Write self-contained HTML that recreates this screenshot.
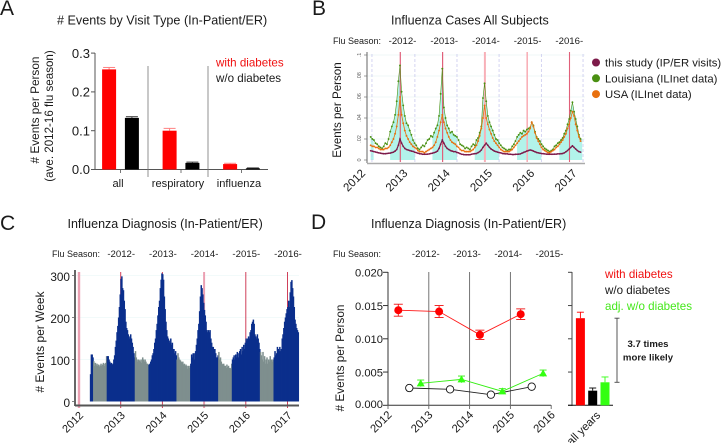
<!DOCTYPE html>
<html><head><meta charset="utf-8"><title>Influenza figure</title>
<style>
html,body{margin:0;padding:0;background:#fff;width:724px;height:443px;overflow:hidden}
svg{display:block}
text{font-family:"Liberation Sans",sans-serif;fill:#1a1a1a}
</style></head>
<body>
<svg id="fig" width="724" height="443" viewBox="0 0 724 443" xmlns="http://www.w3.org/2000/svg">
<rect width="724" height="443" fill="#fff"/>
<text x="0" y="15" font-size="21">A</text>
<text x="312" y="15" font-size="21">B</text>
<text x="0" y="230" font-size="21">C</text>
<text x="311" y="229" font-size="21">D</text>
<text x="57" y="24.5" font-size="12.6">#&#160;Events by Visit Type (In-Patient/ER)</text>
<text x="391" y="24.5" font-size="12.5">Influenza Cases All Subjects</text>
<text x="67.5" y="228" font-size="12.5">Influenza Diagnosis (In-Patient/ER)</text>
<text x="371" y="228" font-size="12.5">Influenza Diagnosis (In-Patient/ER)</text>
<text transform="translate(39,110) rotate(-90)" text-anchor="middle" font-size="11.8"># Events per Person</text>
<text transform="translate(53,116) rotate(-90)" text-anchor="middle" font-size="11.6">(ave. 2012-16 flu season)</text>
<text x="216" y="66.5" font-size="11.6" style="fill:#f01010">with diabetes</text>
<text x="216" y="82" font-size="11.6">w/o diabetes</text>
<text transform="translate(341,110) rotate(-90)" text-anchor="middle" font-size="11.6">Events per Person</text>
<text x="333" y="44" font-size="9">Flu Season:</text>
<text x="52" y="257" font-size="9">Flu Season:</text>
<text x="333" y="257" font-size="9">Flu Season:</text>
<text transform="translate(44,342) rotate(-90)" text-anchor="middle" font-size="12"># Events per Week</text>
<text transform="translate(344,358) rotate(-90)" text-anchor="middle" font-size="11.8"># Events per Person</text>
<text x="605" y="278" font-size="11.6" style="fill:#f01010">with diabetes</text>
<text x="605" y="294" font-size="11.6">w/o diabetes</text>
<text x="605" y="310" font-size="11.6" style="fill:#44e81a">adj. w/o diabetes</text>
<text x="648" y="347" text-anchor="middle" font-size="9.6" font-weight="bold">3.7 times</text>
<text x="648" y="360.5" text-anchor="middle" font-size="9.6" font-weight="bold">more likely</text>
<text transform="translate(601,416) rotate(-45)" text-anchor="end" font-size="11.3">all years</text>
</svg>
<script>
// ---- Panel A data
const aCategories = ['all', 'respiratory', 'influenza'];
const aWithDiabetes = [0.258, 0.100, 0.014];
const aWithoutDiabetes = [0.133, 0.017, 0.003];
const aWithErr = [0.005, 0.006, 0.002];
const aWithoutErr = [0.003, 0.002, 0.001];
const aTicks = ['0.0', '0.1', '0.2', '0.3'];

// ---- Panel B data (every two weeks from 2012.30; values in events per person x 100)
const bStartYear = 2012.30;
const bStepYears = 1 / 26;
const bLouisiana = [
 2.2,2.0,1.9,1.6,1.5,1.3,1.2,1.1,1.3,1.6,1.5,2.0,2.7,3.2,3.6,4.3,5.6,7.5,9.0,6.5,5.2,4.2,3.5,3.3,2.8,2.4,
 1.9,1.6,1.4,1.1,1.0,1.2,1.4,1.3,1.6,1.9,2.0,2.3,2.2,2.6,3.0,3.3,4.2,6.3,8.7,5.0,4.0,3.3,3.0,2.6,2.7,2.4,
 2.3,2.2,1.9,1.5,1.4,1.3,1.1,1.2,1.1,1.0,1.3,1.5,1.4,1.9,2.1,2.6,3.2,5.9,7.3,5.6,4.2,3.6,3.2,2.8,2.4,2.0,
 1.9,1.6,1.4,1.2,1.1,1.0,0.9,1.0,1.0,1.3,1.5,1.8,2.2,2.4,2.6,2.5,2.8,2.7,2.9,3.0,3.1,3.6,3.3,2.7,2.2,2.0,
 1.8,1.5,1.3,1.1,1.0,0.9,0.8,0.9,1.0,1.3,1.4,1.6,1.7,1.9,2.1,2.5,2.8,3.4,3.9,4.7,5.5,4.6,3.9,3.2,2.4,2.0];
const bUsa = [
 1.4,1.3,1.3,1.2,1.2,1.1,1.0,1.0,1.0,1.1,1.1,1.2,1.4,1.7,2.0,2.5,3.2,4.3,6.0,4.3,3.5,2.8,2.3,2.0,1.7,1.5,
 1.3,1.2,1.1,0.9,0.8,0.8,0.8,0.7,0.8,0.9,1.0,1.1,1.2,1.4,1.7,2.2,2.8,3.6,4.3,3.6,3.0,2.6,2.2,1.9,1.7,1.6,
 1.5,1.3,1.2,1.0,0.9,0.9,0.8,0.8,0.8,0.8,0.9,1.0,1.2,1.4,1.8,2.3,3.0,4.0,5.2,4.0,3.4,2.9,2.5,2.1,1.8,1.6,
 1.4,1.2,1.0,0.9,0.8,0.8,0.8,0.8,0.9,1.0,1.2,1.4,1.6,1.8,2.0,2.2,2.3,2.4,2.5,2.7,3.0,3.6,3.2,2.6,2.1,1.8,
 1.5,1.2,1.0,0.9,0.8,0.7,0.7,0.8,0.9,1.0,1.2,1.3,1.5,1.7,1.9,2.2,2.5,3.0,3.4,4.0,4.6,4.2,3.4,2.8,2.2,1.8];
const bStudy = [
 .88,.84,.80,.76,.72,.68,.65,.62,.60,.60,.62,.64,.66,.70,.75,.85,1.0,1.4,2.0,1.6,1.3,1.1,1.0,.95,.9,.85,
 .82,.75,.70,.65,.6,.58,.55,.55,.55,.56,.58,.62,.65,.7,.75,.85,1.1,1.5,1.9,1.6,1.3,1.1,1.0,.9,.85,.8,
 .8,.72,.68,.6,.55,.52,.5,.5,.5,.5,.55,.58,.6,.62,.7,.8,.95,1.2,1.4,1.6,1.4,1.2,1.05,.95,.85,.8,
 .75,.7,.68,.62,.6,.58,.58,.55,.55,.52,.52,.54,.55,.56,.58,.65,.72,.78,.85,.9,.95,.92,.85,.78,.72,.68,
 .65,.62,.6,.58,.56,.55,.55,.55,.55,.56,.56,.58,.58,.6,.62,.68,.78,.9,1.05,1.2,1.35,1.2,1.05,.9,.8,.75];
const bSeasonStarts = [2012.30, 2012.76, 2013.76, 2014.76, 2015.76, 2016.76];
const bSeasonEnds = [2012.37, 2013.345, 2014.34, 2015.335, 2016.335, 2017.30];
const bSeasonLines = [2012.33, 2013.345, 2014.34, 2015.335, 2016.335, 2017.32];
const bYTicks = [0, 2, 4, 6, 8, 10];
const bYTickLabels = ['0', '.02', '.04', '.06', '.08', '.1'];
const bYears = [2012, 2013, 2014, 2015, 2016, 2017];
const bPeakLines = [2013, 2014, 2015, 2016, 2017];
const bPeakWidths = [1.2, 1.2, 2, 1.6, 1.1];
const bSeasonLabels = ['-2012-', '-2013-', '-2014-', '-2015-', '-2016-'];
const bLegend = ['this study (IP/ER visits)', 'Louisiana (ILInet data)', 'USA (ILInet data)'];

// ---- Panel C data (weekly from 2012.26)
const cStartYear = 2012.26;
const cWeekly = [
 65,112,112,105,96,85,92,86,90,85,88,82,86,
 90,85,88,92,85,90,92,108,108,108,100,95,90,
 92,88,90,100,110,130,145,165,180,200,225,255,292,
 298,270,265,240,220,190,175,170,160,150,155,160,150,
 140,130,115,105,120,105,100,95,100,98,95,100,92,
 105,100,95,100,95,90,90,88,88,90,95,100,110,
 115,125,140,150,170,185,205,225,240,270,290,305,303,
 290,250,220,190,170,155,150,145,140,150,135,140,125,
 125,115,120,110,100,115,105,100,98,95,92,95,88,
 90,85,88,85,78,85,80,85,90,112,105,115,100,
 115,120,135,150,170,185,215,250,277,270,255,235,218,
 205,190,170,165,170,165,170,150,140,130,130,125,125,
 115,105,105,110,118,100,105,95,90,88,90,85,85,
 80,88,82,85,80,78,80,90,100,105,110,100,112,
 105,118,105,115,120,125,112,130,120,135,125,140,150,
 145,150,155,150,165,170,185,190,195,185,160,155,150,
 160,150,140,125,118,110,100,118,95,108,90,100,105,
 90,100,95,108,100,100,95,100,105,120,110,115,130,
 125,120,130,120,125,150,160,175,190,200,210,220,225,
 240,225,260,285,289,270,250,225,195,185,175,170,165];
const cYTicks = [0, 100, 200, 300];
const cYears = [2012, 2013, 2014, 2015, 2016, 2017];
const cPeakWidths = [2.4, 1, 1, 2, 1, 1];
const cSeasonLabels = ['-2012-', '-2013-', '-2014-', '-2015-', '-2016-'];

// ---- Panel D data
const dSeasonYears = [2012, 2013, 2014, 2015];
const dSeasonLabels = ['-2012-', '-2013-', '-2014-', '-2015-'];
const dWith = [0.0143, 0.0141, 0.0106, 0.0137];
const dWithErr = [0.0009, 0.0009, 0.0007, 0.0008];
const dWithout = [0.0026, 0.0024, 0.0016, 0.0028];
const dAdjusted = [0.0033, 0.0039, 0.0021, 0.0048];
const dAdjustedErr = [0.0005, 0.0005, 0.0004, 0.0005];
const dYTicks = [0, 0.005, 0.010, 0.015, 0.020];
const dYTickLabels = ['0.000', '0.005', '0.010', '0.015', '0.020'];
const dYears = [2012, 2013, 2014, 2015, 2016];
const dAllYears = [0.0131, 0.0022, 0.00346];
const dAllYearsErr = [0.0009, 0.0004, 0.0008];
const dAllYearsColors = ['#ff0000', '#000000', '#33ff11'];

const svg = document.getElementById('fig');
const NS = 'http://www.w3.org/2000/svg';
function el(tag, attrs, text) {
  const e = document.createElementNS(NS, tag);
  for (const k in attrs) e.setAttribute(k, attrs[k]);
  if (text !== undefined) e.textContent = text;
  svg.appendChild(e);
  return e;
}
function label(e, name) {
  
  
  return e;
}
function line(x1, y1, x2, y2, stroke, w, dash) {
  const a = {x1: x1, y1: y1, x2: x2, y2: y2, stroke: stroke, 'stroke-width': w};
  if (dash) a['stroke-dasharray'] = dash;
  return el('line', a);
}
function errorBar(x, yLow, yHigh, capW, color, w, name) {
  label(line(x, yLow, x, yHigh, color, w), name);
  label(line(x - capW, yHigh, x + capW, yHigh, color, w), name + '-cap');
}
function pathFrom(pts) {
  return pts.map((p, i) => (i ? 'L' : 'M') + p[0].toFixed(2) + ' ' + p[1].toFixed(2)).join(' ');
}

// ===== Panel A =====
const aY = v => 169.5 - v * 388;
const aX = i => 120.5 + i * 60.5;
label(line(95, 53, 95, 170, '#555', 1), 'panel-a-y-axis');
label(line(95, 169.5, 268, 169.5, '#555', 1), 'panel-a-x-axis');
[148, 208].forEach(x => label(line(x, 66, x, 177, '#777', 0.8), 'panel-a-group-separator'));
aTicks.forEach(t => {
  const y = aY(parseFloat(t));
  label(line(91, y, 95, y, '#555', 1), 'panel-a-y-tick');
  label(el('text', {x: 90, y: y + 4.7, 'text-anchor': 'end', 'font-size': 13}, t), 'panel-a-y-tick-label');
});
aCategories.forEach((c, i) => {
  const xw = aX(i) - 11.4, xo = aX(i) + 11.4;
  errorBar(xw, aY(aWithDiabetes[i]), aY(aWithDiabetes[i] + aWithErr[i]), 6, '#ff8080', 1, 'panel-a-error-with-diabetes');
  label(el('rect', {x: xw - 7, y: aY(aWithDiabetes[i]), width: 14, height: aY(0) - aY(aWithDiabetes[i]), fill: '#ff0000'}), 'panel-a-bar-with-diabetes');
  errorBar(xo, aY(aWithoutDiabetes[i]), aY(aWithoutDiabetes[i] + aWithoutErr[i]), 6, '#333', 1, 'panel-a-error-without-diabetes');
  label(el('rect', {x: xo - 7, y: aY(aWithoutDiabetes[i]), width: 14, height: aY(0) - aY(aWithoutDiabetes[i]), fill: '#000'}), 'panel-a-bar-without-diabetes');
  label(line(aX(i), 170, aX(i), 173, '#555', 0.8), 'panel-a-x-tick');
  label(el('text', {x: [118, 178, 239][i], y: 187, 'text-anchor': 'middle', 'font-size': 11.1}, c), 'panel-a-category-label');
});

// ===== Panel B =====
const bX = yr => 358 + (yr - 2012) * 42.3;
const bY = v => 160 - v * 10.5;
const bYearAt = i => bStartYear + i * bStepYears;
bYTicks.forEach((t, i) => {
  const y = bY(t);
  if (t > 0) label(line(367, y, 585, y, '#eaf5f5', 0.8), 'panel-b-gridline');
  label(line(364, y, 367, y, '#777', 0.7), 'panel-b-y-tick');
  label(el('text', {transform: 'translate(361,' + y + ') rotate(-90)', 'text-anchor': 'middle', 'font-size': 5.5, style: 'fill:#666'}, bYTickLabels[i]), 'panel-b-y-tick-label');
});
bSeasonStarts.forEach((s, k) => {
  const pts = [];
  bLouisiana.forEach((v, i) => {
    const yr = bYearAt(i);
    if (yr >= s && yr <= bSeasonEnds[k]) pts.push([bX(yr), bY(v)]);
  });
  const poly = [[bX(s), bY(0)], [bX(s), pts[0][1]]].concat(pts, [[bX(bSeasonEnds[k]), pts[pts.length - 1][1]], [bX(bSeasonEnds[k]), bY(0)]]);
  label(el('path', {d: pathFrom(poly) + ' Z', fill: '#b2f3ea'}), 'panel-b-season-shading');
});
bSeasonLines.forEach(yr => label(line(bX(yr), 54, bX(yr), 162, '#c9c9ee', 0.8, '3 2'), 'panel-b-season-boundary'));
bPeakLines.forEach((yr, i) => label(line(bX(yr), 52, bX(yr), 162, i < 2 || i === 4 ? '#e0607a' : '#f8b0b8', bPeakWidths[i]), 'panel-b-new-year-line'));
label(line(367, 52, 367, 163, '#666', 1), 'panel-b-y-axis');
label(line(367, 163.5, 585, 163.5, '#aaa', 1.4), 'panel-b-x-axis');
function bSeries(values, color, r, w, name) {
  const pts = values.map((v, i) => [bX(bYearAt(i)), bY(v)]);
  label(el('path', {d: pathFrom(pts), fill: 'none', stroke: color, 'stroke-width': w}), name + '-line');
  pts.forEach(p => label(el('circle', {cx: p[0], cy: p[1], r: r, fill: color}), name + '-point'));
}
bSeries(bLouisiana, '#4a9012', 0.95, 0.6, 'panel-b-louisiana');
bSeries(bUsa, '#e8700f', 0.95, 0.8, 'panel-b-usa');
bSeries(bStudy, '#7d1a4a', 0.9, 1.2, 'panel-b-study');
bYears.forEach(yr => {
  label(el('text', {transform: 'translate(' + (bX(yr) + 8) + ',174) rotate(-45)', 'text-anchor': 'end', 'font-size': 11.5}, String(yr)), 'panel-b-year-label');
});
bSeasonLabels.forEach((s, i) => label(el('text', {x: 402.5 + i * 41.7, y: 44, 'text-anchor': 'middle', 'font-size': 9.6}, s), 'panel-b-season-label'));
['#7d1a4a', '#4a9012', '#e8700f'].forEach((c, i) => {
  label(el('circle', {cx: 596, cy: 62.5 + i * 15.8, r: 4, fill: c}), 'panel-b-legend-marker');
  label(el('text', {x: 605, y: 66.5 + i * 15.8, 'font-size': 11.3}, bLegend[i]), 'panel-b-legend-label');
});

// ===== Panel C =====
const cX = yr => 79 + (yr - 2012) * 41.7;
const cY = v => 401.5 - v * 0.42;
cYTicks.forEach(t => {
  if (t > 0) label(line(76, cY(t), 299, cY(t), '#eef8f8', 0.8), 'panel-c-gridline');
  label(line(72, cY(t), 75, cY(t), '#666', 0.8), 'panel-c-y-tick');
  label(el('text', {x: 70, y: cY(t) + 5.5, 'text-anchor': 'end', 'font-size': 11.8}, String(t)), 'panel-c-y-tick-label');
});
cYears.forEach((yr, i) => {
  label(line(cX(yr), 272, cX(yr), 408, cPeakWidths[i] > 1 ? '#eba0b2' : '#d0405a', cPeakWidths[i]), 'panel-c-new-year-line');
  label(el('text', {transform: 'translate(' + (cX(yr) + 5) + ',416) rotate(-45)', 'text-anchor': 'end', 'font-size': 11}, String(yr)), 'panel-c-year-label');
});
cWeekly.forEach((v, i) => {
  const yr = cStartYear + i / 52;
  const frac = yr - Math.floor(yr);
  const inSeason = frac < 0.33 || frac >= 0.65;
  const bar = el('rect', {x: cX(yr), y: cY(v), width: 1.5, height: cY(0) - cY(v), fill: inSeason ? '#0b2f8c' : '#7e8f8e'});
  
  
});
label(line(75, 270, 75, 406, '#666', 2), 'panel-c-y-axis');
label(line(75, 405.5, 299, 405.5, '#555', 2), 'panel-c-x-axis');
cSeasonLabels.forEach((s, i) => label(el('text', {x: 121.2 + i * 41.7, y: 257, 'text-anchor': 'middle', 'font-size': 9.6}, s), 'panel-c-season-label'));

// ===== Panel D =====
const dY = v => 405.3 - v * 6650;
const dX = yr => 388 + (yr - 2012) * 40.8;
dYTicks.forEach((t, i) => {
  label(line(383, dY(t), 388, dY(t), '#333', 1), 'panel-d-y-tick');
  label(el('text', {x: 383, y: dY(t) + 4.3 - (t === 0 ? 1.5 : 0), 'text-anchor': 'end', 'font-size': 11.2}, dYTickLabels[i]), 'panel-d-y-tick-label');
  label(line(568, dY(t), 572, dY(t), '#444', 1), 'panel-d-all-years-y-tick');
});
label(line(388, 272, 388, 406, '#333', 1), 'panel-d-y-axis');
label(line(388, 405.3, 551, 405.3, '#333', 1), 'panel-d-x-axis');
dYears.forEach((yr, i) => {
  label(line(dX(yr), i === 0 ? 405 : (i === 4 ? 405 : 272), dX(yr), 409, '#666', 0.9), 'panel-d-year-line');
  label(el('text', {transform: 'translate(' + (dX(yr) + 4.5) + ',415.5) rotate(-45)', 'text-anchor': 'end', 'font-size': 11.3}, String(yr)), 'panel-d-year-label');
});
dSeasonLabels.forEach((s, i) => label(el('text', {x: 425.8 + i * 41.2, y: 257, 'text-anchor': 'middle', 'font-size': 9.6}, s), 'panel-d-season-label'));
const dWithPts = dWith.map((v, i) => [dX(dSeasonYears[i]) + 10.3, dY(v)]);
const dWithoutPts = dWithout.map((v, i) => [dX(dSeasonYears[i]) + 21.3, dY(v)]);
const dAdjPts = dAdjusted.map((v, i) => [dX(dSeasonYears[i]) + 32.7, dY(v)]);
label(el('path', {d: pathFrom(dWithoutPts), fill: 'none', stroke: '#222', 'stroke-width': 0.9}), 'panel-d-without-diabetes-line');
label(el('path', {d: pathFrom(dAdjPts), fill: 'none', stroke: '#33ee11', 'stroke-width': 0.9}), 'panel-d-adjusted-line');
label(el('path', {d: pathFrom(dWithPts), fill: 'none', stroke: '#ff1a1a', 'stroke-width': 0.9}), 'panel-d-with-diabetes-line');
dWithPts.forEach((p, i) => {
  label(line(p[0], dY(dWith[i] - dWithErr[i]), p[0], dY(dWith[i] + dWithErr[i]), '#f01010', 0.9), 'panel-d-with-error');
  label(line(p[0] - 4.5, dY(dWith[i] + dWithErr[i]), p[0] + 4.5, dY(dWith[i] + dWithErr[i]), '#f01010', 0.9), 'panel-d-with-error-cap');
  label(line(p[0] - 4.5, dY(dWith[i] - dWithErr[i]), p[0] + 4.5, dY(dWith[i] - dWithErr[i]), '#f01010', 0.9), 'panel-d-with-error-cap');
  label(el('circle', {cx: p[0], cy: p[1], r: 4, fill: '#ff0000'}), 'panel-d-with-diabetes-point');
});
dWithoutPts.forEach(p => label(el('circle', {cx: p[0], cy: p[1], r: 3.7, fill: '#fff', stroke: '#111', 'stroke-width': 0.9}), 'panel-d-without-diabetes-point'));
dAdjPts.forEach((p, i) => {
  label(line(p[0], dY(dAdjusted[i] - dAdjustedErr[i]), p[0], dY(dAdjusted[i] + dAdjustedErr[i]), '#33ee11', 0.9), 'panel-d-adjusted-error');
  label(line(p[0] - 3.5, dY(dAdjusted[i] + dAdjustedErr[i]), p[0] + 3.5, dY(dAdjusted[i] + dAdjustedErr[i]), '#33ee11', 0.9), 'panel-d-adjusted-error-cap');
  label(el('path', {d: 'M' + p[0] + ' ' + (p[1] - 4) + ' L' + (p[0] + 4) + ' ' + (p[1] + 3) + ' L' + (p[0] - 4) + ' ' + (p[1] + 3) + ' Z', fill: '#33ff11'}), 'panel-d-adjusted-point');
});
label(line(572, 272, 572, 406, '#444', 1), 'panel-d-all-years-y-axis');
label(line(568, 405.3, 613, 405.3, '#111', 1), 'panel-d-all-years-x-axis');
dAllYears.forEach((v, i) => {
  const cx = 580.4 + i * 12.3;
  errorBar(cx, dY(v), dY(v + dAllYearsErr[i]), 3.5, dAllYearsColors[i], 0.9, 'panel-d-all-years-error');
  label(el('rect', {x: cx - 4.5, y: dY(v), width: 9, height: dY(0) - dY(v), fill: dAllYearsColors[i]}), 'panel-d-all-years-bar');
});
label(line(617, dY(dAllYears[0]), 617, dY(dAllYears[2]), '#444', 0.9), 'likelihood-bracket');
label(line(614.5, dY(dAllYears[0]), 619.5, dY(dAllYears[0]), '#444', 0.9), 'likelihood-bracket-top');
label(line(614.5, dY(dAllYears[2]), 619.5, dY(dAllYears[2]), '#444', 0.9), 'likelihood-bracket-bottom');
</script>
</body></html>
